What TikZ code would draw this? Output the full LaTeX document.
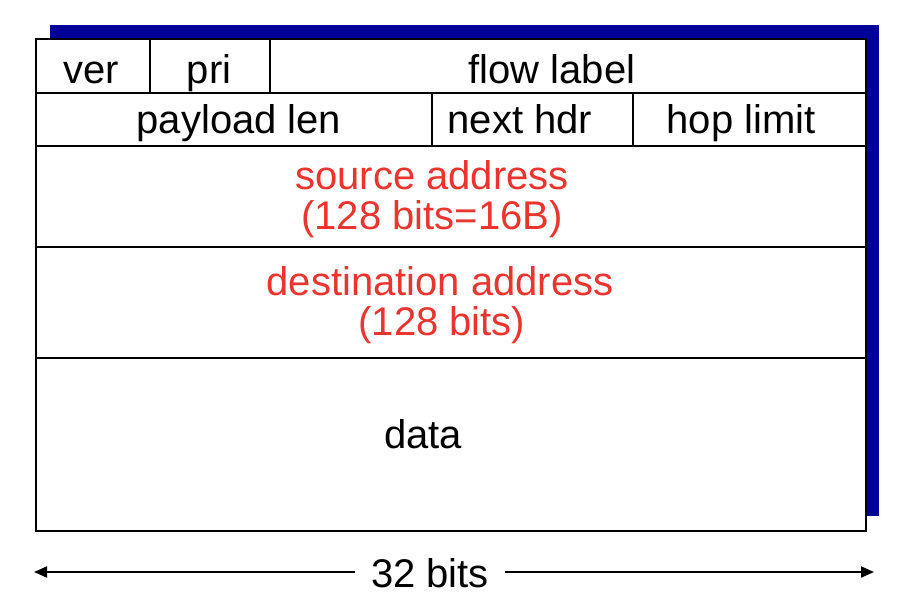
\documentclass[tikz,border=0pt]{standalone}
\usepackage{fontspec}
\setmainfont{Liberation Sans}
\usetikzlibrary{arrows.meta}
\definecolor{shadowblue}{RGB}{0,0,150}
\definecolor{fieldred}{RGB}{235,52,45}
\begin{document}
\begin{tikzpicture}[x=1pt,y=-1pt,
  grid/.style={line width=2.8pt,draw=black},
  lbl/.style={anchor=base,inner sep=0pt,font=\fontsize{40pt}{45pt}\selectfont},
  redlbl/.style={lbl,text=fieldred},
  dimline/.style={line width=2pt,-{Triangle[length=13pt,width=11pt]}}]
\useasboundingbox (0,0) rectangle (912,602);
% shadow
\fill[shadowblue] (50,25) rectangle (879,516);
% header box
\filldraw[grid,fill=white] (36,39) rectangle (866,531);
\draw[grid] (36,93) -- (866,93);
\draw[grid] (36,146) -- (866,146);
\draw[grid] (36,247) -- (866,247);
\draw[grid] (36,358) -- (866,358);
\draw[grid] (150,39) -- (150,93);
\draw[grid] (270,39) -- (270,93);
\draw[grid] (432,93) -- (432,146);
\draw[grid] (633,93) -- (633,146);
% labels
\node[lbl] (ver) at (91,83) {ver};
\node[lbl] (pri) at (209,83) {pri};
\node[lbl] (flow) at (552,83) {flow label};
\node[lbl] (plen) at (239,133) {payload len};
\node[lbl] (nhdr) at (520,133) {next hdr};
\node[lbl] (hop) at (741,133) {hop limit};
\node[redlbl] (src1) at (432,189) {source address};
\node[redlbl] (src2) at (432,229) {(128 bits=16B)};
\node[redlbl] (dst1) at (440,295) {destination address};
\node[redlbl] (dst2) at (442,335) {(128 bits)};
\node[lbl] (data) at (423,448) {data};
% 32 bits dimension
\node[lbl,inner xsep=16pt] (bits) at (430,587) {32 bits};
\coordinate (L) at (34,572);
\coordinate (R) at (874,572);
\draw[dimline] (bits.west |- L) -- (L);
\draw[dimline] (bits.east |- R) -- (R);
\end{tikzpicture}
\end{document}
